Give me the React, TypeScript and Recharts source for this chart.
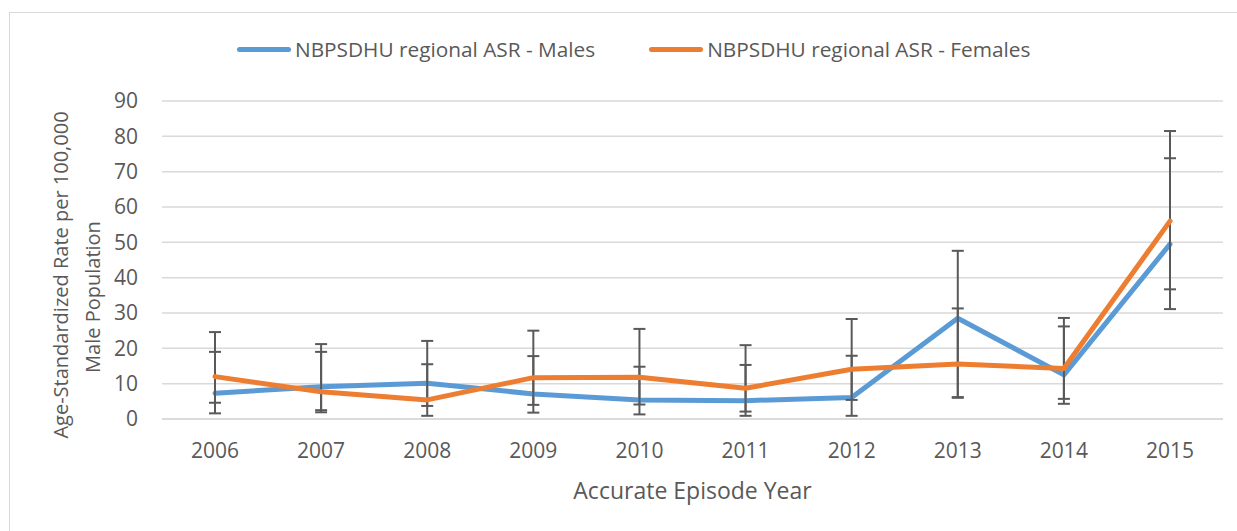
import { LineChart, Line, XAxis, YAxis, CartesianGrid, ErrorBar } from 'recharts';

const years = ['2006', '2007', '2008', '2009', '2010', '2011', '2012', '2013', '2014', '2015'];

const maleRate = [7.3, 9.1, 10.1, 7.1, 5.4, 5.2, 6.1, 28.5, 12.5, 49.5];
const maleLow = [1.6, 2.5, 3.7, 1.8, 1.3, 0.9, 0.9, 6.2, 4.3, 31.1];
const maleHigh = [19.0, 21.2, 22.1, 17.8, 14.8, 15.3, 17.9, 47.6, 26.2, 73.8];

const femaleRate = [12.0, 7.7, 5.4, 11.7, 11.8, 8.7, 14.1, 15.6, 14.3, 56.0];
const femaleLow = [4.6, 1.9, 0.9, 4.0, 4.1, 2.1, 5.4, 6.0, 5.7, 36.7];
const femaleHigh = [24.6, 19.0, 15.5, 25.0, 25.5, 20.9, 28.3, 31.3, 28.6, 81.5];

const yTicks = [0, 10, 20, 30, 40, 50, 60, 70, 80, 90];

const maleName = 'NBPSDHU regional ASR - Males';
const femaleName = 'NBPSDHU regional ASR - Females';

const BLUE = '#5B9BD5';
const ORANGE = '#ED7D31';
const TEXT = '#595959';
const FONT = '"Open Sans", sans-serif';

// error bars take [below, above] distances from the point
const data = years.map((year, i) => ({
  year,
  male: maleRate[i],
  maleErr: [maleRate[i] - maleLow[i], maleHigh[i] - maleRate[i]],
  female: femaleRate[i],
  femaleErr: [femaleRate[i] - femaleLow[i], femaleHigh[i] - femaleRate[i]],
}));

function LegendItem({ color, label }: { color: string; label: string }) {
  return (
    <div style={{ display: 'flex', alignItems: 'center' }}>
      <span style={{ display: 'inline-block', width: 54, height: 5, borderRadius: 3, background: color, marginRight: 4 }} />
      <span>{label}</span>
    </div>
  );
}

function YTitle() {
  return (
    <g fill={TEXT} fontFamily={FONT} fontSize={20}>
      <text x={60} y={275} textAnchor="middle" dominantBaseline="central" transform="rotate(-90 60 275)">
        Age-Standardized Rate per 100,000
      </text>
      <text x={92} y={297} textAnchor="middle" dominantBaseline="central" transform="rotate(-90 92 297)">
        Male Population
      </text>
    </g>
  );
}

export default function App() {
  return (
    <div style={{ position: 'absolute', left: 0, top: 0, width: 1237, height: 531, overflow: 'hidden', background: '#fff' }}>
      <div style={{ position: 'absolute', left: 9, top: 12, width: 1300, height: 600, border: '1px solid #d9d9d9' }} />
      <div
        style={{
          position: 'absolute',
          top: 35,
          left: 237,
          display: 'flex',
          gap: 54,
          fontFamily: FONT,
          fontSize: 20.8,
          color: TEXT,
          whiteSpace: 'nowrap',
        }}
      >
        <LegendItem color={BLUE} label={maleName} />
        <LegendItem color={ORANGE} label={femaleName} />
      </div>
      <div style={{ position: 'absolute', left: 0, top: 0 }}>
        <LineChart width={1237} height={531} data={data} margin={{ top: 101, right: 14, bottom: 32, left: 62 }}>
          <CartesianGrid vertical={false} stroke="#d9d9d9" strokeWidth={1.5} />
          <XAxis
            dataKey="year"
            padding={{ left: 53, right: 53 }}
            height={80}
            tickLine={false}
            tickSize={0}
            tickMargin={24}
            axisLine={{ stroke: '#d9d9d9', strokeWidth: 1.5 }}
            tick={{ fill: TEXT, fontSize: 21, fontFamily: FONT }}
            label={(props: any) => (
              <text
                x={props.viewBox.x + props.viewBox.width / 2}
                y={490}
                textAnchor="middle"
                dominantBaseline="central"
                fill={TEXT}
                fontSize={23}
                fontFamily={FONT}
              >
                Accurate Episode Year
              </text>
            )}
          />
          <YAxis
            width={100}
            domain={[0, 90]}
            ticks={yTicks}
            tickLine={false}
            tickSize={0}
            tickMargin={24}
            axisLine={false}
            tick={{ fill: TEXT, fontSize: 21, fontFamily: FONT }}
            label={() => <YTitle />}
          />
          <Line
            type="linear"
            dataKey="male"
            name={maleName}
            stroke={BLUE}
            strokeWidth={5}
            strokeLinecap="round"
            strokeLinejoin="round"
            dot={false}
            isAnimationActive={false}
          >
            <ErrorBar dataKey="maleErr" direction="y" width={6} stroke={TEXT} strokeWidth={2} isAnimationActive={false} />
          </Line>
          <Line
            type="linear"
            dataKey="female"
            name={femaleName}
            stroke={ORANGE}
            strokeWidth={5}
            strokeLinecap="round"
            strokeLinejoin="round"
            dot={false}
            isAnimationActive={false}
          >
            <ErrorBar dataKey="femaleErr" direction="y" width={6} stroke={TEXT} strokeWidth={2} isAnimationActive={false} />
          </Line>
        </LineChart>
      </div>
    </div>
  );
}
